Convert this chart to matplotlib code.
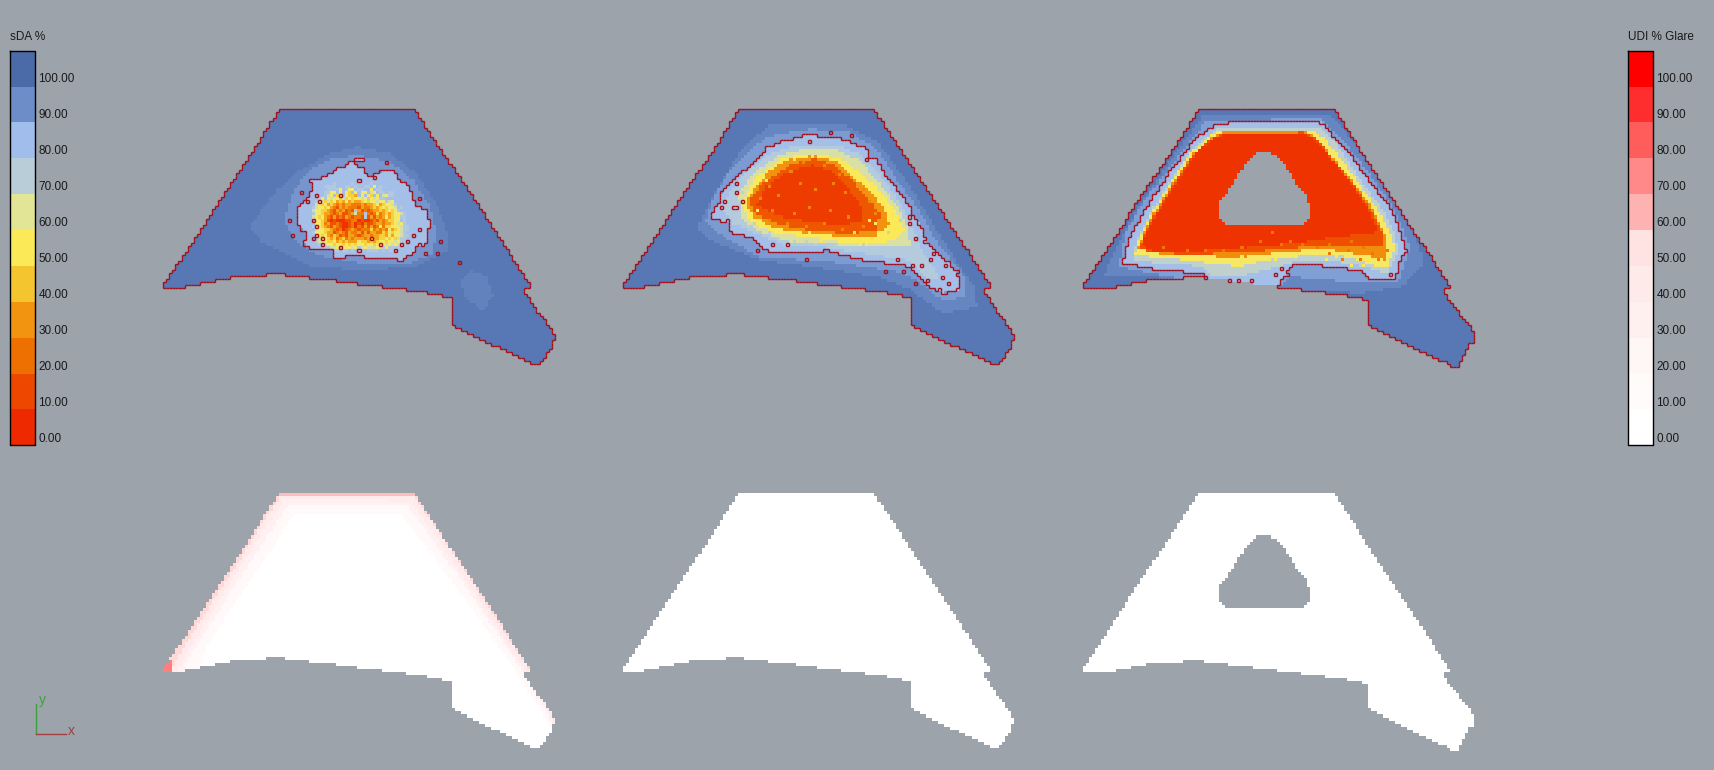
import numpy as np
import matplotlib
matplotlib.use("Agg")
import matplotlib.pyplot as plt
from matplotlib.collections import LineCollection
from matplotlib.colors import BoundaryNorm, LinearSegmentedColormap, ListedColormap
from matplotlib.path import Path

plt.rcParams['font.family'] = ['Liberation Sans', 'DejaVu Sans']

BG = '#9ca3ab'
CELL = 3.034

# legends
legend_ticks = [100, 90, 80, 70, 60, 50, 40, 30, 20, 10, 0]
sda_colors = ['#ee2900', '#ee4800', '#ee7000', '#f2940f', '#f5c530', '#fbe957',
              '#e2e596', '#b9cdd9', '#a0bdec', '#6d8dc8', '#4b6ba8']
udi_colors = ['#ffffff', '#fffbfb', '#fff6f6', '#fff0f0', '#ffeaea', '#ffe3e3',
              '#ffb2b2', '#ff8888', '#ff5c5c', '#ff2e2e', '#ff0000']

# outlines, in px of the picture
outline_a = [(280, 109.3), (414.5, 109.3), (531.7, 286.7), (525.7, 288.3), (525.7, 294),
             (555, 335), (555, 340), (550.5, 341.7), (550.5, 347), (545.5, 355),
             (539, 365), (534, 365), (528.3, 361.7), (451.7, 325), (451.7, 297.3),
             (442.3, 297.3), (442.3, 294.3), (426.7, 294.3), (426.7, 291.3), (405.7, 291.3),
             (405.7, 288.3), (381, 288.3), (381, 285.3), (356.7, 285.3), (356.7, 282.3),
             (335, 282.3), (335, 279.3), (310, 279.3), (310, 276.5), (285, 276.5),
             (285, 273.3), (267.3, 273.3), (267.3, 276.3), (230.7, 276.3), (230.7, 279.3),
             (215.3, 279.3), (215.3, 282.3), (200, 282.3), (200, 285.3), (184.3, 285.3),
             (184.3, 288.3), (163.3, 288.3), (163.3, 285.3)]
outline_c = [(1198.7, 109.3), (1333.3, 109.3), (1450, 286.7), (1444, 288.3), (1444, 294),
             (1474, 331.7), (1474, 342.3), (1469, 344), (1464, 355), (1458.5, 366.7),
             (1453.3, 366.7), (1446.7, 363.3), (1367.3, 324.3), (1367.3, 300.7), (1361.7, 300.7),
             (1361.7, 297.7), (1346, 297.7), (1346, 294.3), (1324.7, 294.3), (1324.7, 291.3),
             (1300, 291.3), (1300, 288.3), (1275.7, 288.3), (1275.7, 285.3), (1253.3, 285.3),
             (1253.3, 282.3), (1229.3, 282.3), (1229.3, 279.3), (1205, 279.3), (1205, 276.3),
             (1183.3, 276.3), (1183.3, 279.3), (1146.7, 279.3), (1146.7, 282.3), (1131, 282.3),
             (1131, 285.3), (1115, 285.3), (1115, 288.3), (1082.7, 288.3), (1082.7, 285.3)]

sda_a = [
    (93, [(620, 170), (720, 190), (800, 250), (860, 340), (890, 420), (900, 480), (800, 530),
          (650, 540), (480, 530), (340, 460), (300, 410), (380, 300), (450, 240), (540, 190)]),
    (93, [(960, 540), (1010, 560), (1030, 620), (1000, 660), (950, 630), (930, 580)]),
    (88, [(620, 195), (720, 215), (790, 270), (840, 350), (860, 430), (850, 490), (780, 520),
          (640, 520), (500, 495), (430, 450), (400, 390), (430, 300), (480, 240), (550, 205)]),
    (78, [(618, 200), (638, 200), (638, 210), (612, 212), (612, 225), (640, 228), (636, 250),
          (660, 258), (690, 245), (712, 240), (740, 248), (748, 272), (780, 290), (785, 322),
          (800, 352), (830, 356), (832, 378), (840, 400), (830, 440), (830, 462), (795, 470),
          (790, 490), (752, 510), (700, 500), (660, 505), (610, 490), (580, 500), (550, 500),
          (548, 478), (480, 472), (462, 455), (468, 425), (440, 400), (445, 350), (470, 330),
          (490, 290), (475, 270), (510, 265), (540, 248), (570, 230), (590, 225)]),
]
sda_b = [
    (92, [(480, 105), (700, 100), (800, 150), (900, 290), (1000, 450), (1090, 590), (1100, 650),
          (1000, 670), (900, 600), (800, 560), (600, 530), (450, 510), (300, 450), (260, 410),
          (330, 280), (400, 170)]),
    (87, [(470, 140), (600, 115), (720, 125), (800, 175), (860, 270), (920, 350), (985, 460),
          (1060, 550), (1070, 620), (1000, 635), (920, 570), (860, 545), (700, 520), (580, 510),
          (450, 500), (340, 440), (285, 395), (310, 320), (360, 240), (420, 180)]),
    (78, [(470, 168), (510, 160), (515, 145), (545, 145), (575, 135), (620, 135), (680, 140),
          (725, 155), (770, 175), (775, 200), (800, 200), (820, 250), (855, 290), (875, 320),
          (900, 350), (905, 370), (930, 400), (950, 460), (985, 490), (1020, 520), (1045, 560),
          (1045, 600), (1000, 610), (960, 590), (900, 530), (860, 520), (780, 515), (700, 495),
          (650, 480), (580, 490), (520, 490), (470, 480), (420, 440), (360, 425), (360, 395),
          (300, 385), (300, 372), (325, 340), (335, 305), (370, 265), (410, 235), (440, 205),
          (465, 180)]),
    (72, [(480, 190), (560, 165), (680, 165), (750, 190), (800, 240), (870, 340), (910, 420),
          (940, 490), (990, 560), (960, 570), (890, 510), (760, 490), (640, 470), (540, 470),
          (440, 430), (370, 400), (330, 350), (380, 280), (430, 230)]),
    (62, [(500, 200), (580, 175), (680, 180), (750, 210), (800, 270), (860, 350), (895, 420),
          (900, 470), (800, 470), (640, 460), (540, 455), (450, 425), (395, 385), (385, 310),
          (430, 250)]),
    (50, [(520, 205), (600, 190), (690, 205), (740, 240), (800, 290), (860, 370), (885, 420),
          (850, 450), (760, 465), (600, 440), (500, 430), (420, 395), (395, 340), (440, 260)]),
    (30, [(530, 210), (610, 195), (680, 215), (730, 260), (790, 310), (830, 370), (835, 400),
          (800, 440), (740, 445), (600, 430), (500, 415), (430, 380), (405, 340), (440, 290),
          (480, 240)]),
    (14, [(540, 225), (610, 205), (670, 225), (720, 265), (770, 320), (810, 370), (800, 420),
          (720, 430), (600, 420), (500, 400), (430, 370), (420, 330), (460, 280)]),
    (6, [(545, 240), (610, 225), (670, 245), (710, 290), (750, 340), (760, 390), (700, 405),
         (600, 395), (510, 380), (440, 345), (470, 290)]),
]
sda_c = [
    (92, [(400, 75), (780, 75), (830, 130), (880, 190), (1000, 370), (1050, 470), (1060, 520),
          (1000, 590), (880, 610), (620, 600), (560, 600), (400, 580), (240, 560), (100, 560),
          (130, 490), (200, 360), (300, 210)]),
    (86, [(410, 92), (760, 88), (810, 140), (890, 240), (975, 360), (1020, 470), (1000, 540),
          (985, 580), (880, 580), (660, 560), (640, 585), (420, 585), (250, 550), (145, 530),
          (170, 420), (240, 310), (330, 190)]),
    (78, [(425, 108), (455, 100), (560, 95), (745, 95), (765, 105), (790, 140), (830, 180),
          (870, 235), (910, 290), (955, 345), (990, 420), (1010, 480), (990, 510), (975, 565),
          (900, 565), (880, 545), (800, 530), (740, 525), (690, 520), (660, 530), (640, 560),
          (615, 600), (550, 600), (420, 585), (405, 550), (340, 545), (240, 535), (155, 518),
          (185, 425), (250, 320), (300, 240), (370, 150), (385, 135)]),
    (68, [(450, 112), (745, 108), (790, 150), (850, 240), (900, 310), (945, 370), (975, 430),
          (985, 480), (970, 520), (950, 550), (880, 530), (800, 515), (700, 510), (640, 525),
          (590, 540), (500, 560), (430, 560), (400, 530), (300, 520), (190, 515), (195, 470),
          (230, 390), (290, 290), (350, 200), (410, 140)]),
    (52, [(455, 120), (730, 118), (770, 150), (830, 230), (880, 300), (930, 370), (965, 435),
          (975, 480), (960, 510), (950, 535), (880, 515), (780, 490), (620, 505), (500, 530),
          (420, 520), (300, 505), (195, 495), (205, 450), (240, 380), (300, 280), (360, 190),
          (420, 135)]),
    (28, [(460, 125), (710, 125), (750, 150), (810, 230), (860, 290), (910, 360), (945, 430),
          (950, 510), (880, 495), (760, 475), (600, 490), (490, 505), (400, 495), (260, 490),
          (205, 475), (235, 400), (300, 290), (370, 190), (425, 140)]),
    (12, [(463, 128), (705, 126), (748, 152), (800, 225), (855, 290), (905, 365), (940, 430),
          (935, 470), (760, 465), (600, 480), (400, 492), (250, 489), (208, 472), (238, 402),
          (305, 290), (375, 187), (428, 142)]),
    (3, [(465, 130), (700, 128), (745, 155), (790, 215), (850, 290), (900, 370), (925, 425),
         (800, 440), (700, 455), (560, 470), (400, 482), (250, 482), (215, 465), (240, 405),
         (310, 290), (380, 185), (430, 145)]),
]
hole_c = [(562, 189), (605, 189), (630, 205), (650, 235), (670, 265), (690, 298), (710, 320),
          (717, 338), (717, 388), (698, 408), (480, 408), (462, 398), (450, 378), (450, 335),
          (470, 310), (490, 280), (505, 255), (525, 225), (545, 197)]

# first panel core, one digit per cell (tens of percent), from x=295 y=180
core_a = [
    "",
    ".............7.....7.....7",
    "..........7777...77.7..77.5.7",
    "...........77775.755.77..5.77",
    "..........7755.5.54.5.55.65.77.77",
    "..........765.45.5443.5.54.5.6577",
    "........7575655464545565756577",
    ".......75646453435343345455655765",
    ".......654534323233222323345345567",
    "......7655453213232221322343454556.7",
    "......65544321323121731212334345457",
    "......7554332123112362272124234345567",
    "......6545321312132122171313235345577",
    ".......5543101000112201001213234455.7",
    ".......554231121001201021123323345657",
    "......75543213210012021313125244555677",
    ".......6554432120123212224232325345677",
    "......7555433123213223131332243545567",
    ".......6545324312133212332334435355677",
    "......8765543423423233323433445454677",
    ".......7655445343433354434345545565778",
    "........77655455454545545545556565677",
    "..........7766565556576566656757777",
    ".............77.77.7.77.7777.7.77",
]

b_orange = [(180, 60), (220, 40), (280, 45), (330, 70), (120, 110), (150, 140), (210, 100),
            (260, 120), (310, 100), (350, 130), (400, 120), (240, 170), (300, 180), (190, 190),
            (130, 180), (90, 150), (360, 200), (420, 160), (440, 190), (280, 220), (230, 230),
            (340, 240), (400, 230), (120, 210), (170, 220)]
b_yellow = [(190, 25), (250, 20), (300, 30), (345, 50), (375, 75), (130, 55), (100, 75), (70, 110),
            (55, 135), (45, 165), (60, 190), (95, 210), (130, 235), (165, 245), (235, 245),
            (300, 255), (345, 265), (400, 265), (445, 250), (475, 225), (490, 190), (455, 140),
            (430, 110), (385, 90), (150, 35), (75, 95), (110, 90), (85, 185), (420, 210),
            (465, 175), (210, 255), (270, 270), (370, 245), (320, 268), (440, 215)]
b_pale = [(40, 130), (25, 160), (70, 215), (190, 270), (510, 210), (500, 160), (150, 265),
          (230, 270), (400, 285), (470, 250), (320, 285), (260, 285), (115, 245), (60, 225)]
c_orange = [(700, 110), (650, 120), (600, 130), (560, 110), (520, 100), (480, 90), (430, 70),
            (450, 100), (390, 90), (600, 100), (660, 90), (730, 130), (750, 150), (690, 150),
            (640, 150), (770, 120), (340, 110), (280, 120), (230, 125), (170, 120), (100, 115)]
c_yellow = [(240, 150), (290, 150), (340, 140), (390, 135), (440, 150), (560, 130), (620, 135),
            (700, 170), (740, 170), (660, 170), (30, 120), (110, 140), (170, 145), (500, 135),
            (590, 145), (720, 150)]
c_pale = [(350, 170), (300, 170), (250, 180), (420, 170), (380, 160), (470, 155), (330, 190),
          (290, 190), (530, 150)]

# lone loops of the threshold line, same crops as the bands
specks_a = [(927, 516), (420, 386), (430, 434), (707, 221), (807, 323), (873, 452), (860, 489),
            (828, 489), (458, 305), (468, 338), (460, 462), (522, 462), (486, 386), (503, 405),
            (504, 434), (450, 414), (570, 315), (624, 276), (668, 267), (688, 243), (660, 443),
            (688, 462), (570, 470), (624, 480), (752, 462), (735, 480), (808, 462), (790, 435),
            (522, 443), (513, 332), (495, 315), (806, 414)]
specks_b = [(660, 128), (723, 137), (594, 155), (770, 212), (375, 284), (375, 305), (336, 310),
            (393, 332), (345, 340), (366, 350), (382, 350), (330, 358), (355, 387), (900, 378),
            (927, 395), (900, 400), (918, 445), (940, 452), (484, 462), (443, 480), (530, 462),
            (585, 506), (825, 545), (880, 546), (918, 580), (953, 572), (990, 600), (1005, 608),
            (1045, 600), (1000, 563), (1040, 548), (1020, 580), (970, 490), (960, 510),
            (1010, 530), (930, 525), (910, 525), (860, 510)]
specks_c = [(483, 570), (510, 570), (545, 570), (620, 552), (638, 535), (648, 552), (960, 552),
            (755, 100)]

# glare bands of the first lower panel
udi_a = [
    (38, [(390, 69), (795, 71), (870, 179), (1140, 589), (1300, 919), (40, 919), (70, 584),
          (100, 519), (250, 289), (370, 99)]),
    (28, [(400, 79), (780, 81), (860, 189), (1120, 579), (1300, 919), (50, 919), (85, 584),
          (115, 529), (265, 289), (385, 104)]),
    (15, [(415, 95), (770, 95), (850, 199), (1110, 579), (1300, 919), (55, 919), (100, 584),
          (130, 529), (280, 299), (400, 115)]),
    (0, [(440, 119), (750, 119), (830, 219), (1090, 579), (1300, 919), (120, 919), (150, 584),
         (170, 519), (310, 309), (420, 139)]),
    (72, [(20, 610), (70, 550), (70, 610)]),
    (58, [(385, 55), (800, 55), (800, 68), (385, 68)]),
]

sda_cmap = LinearSegmentedColormap.from_list('sda', sda_colors, N=256)
udi_cmap = LinearSegmentedColormap.from_list('udi', udi_colors, N=256)


def from_crop(points, origin):
    return [(origin[0] + x / 3, origin[1] + y / 3) for x, y in points]


def raster(outline, bands, base, origin, hole=None):
    pts = np.array(outline)
    left, top = pts[:, 0].min(), pts[:, 1].min()
    nx = int((pts[:, 0].max() - left) / CELL) + 2
    ny = int((pts[:, 1].max() - top) / CELL) + 2
    xe = left + CELL * np.arange(nx + 1)
    ye = top + CELL * np.arange(ny + 1)
    xc, yc = np.meshgrid(xe[:-1] + CELL / 2, ye[:-1] + CELL / 2)
    cells = np.column_stack([xc.ravel(), yc.ravel()])
    vals = np.full(xc.shape, float(base))
    for val, poly in bands:
        inside = Path(from_crop(poly, origin)).contains_points(cells).reshape(xc.shape)
        vals[inside] = val
    inside = Path(outline).contains_points(cells).reshape(xc.shape)
    if hole is not None:
        inside &= ~Path(from_crop(hole, origin)).contains_points(cells).reshape(xc.shape)
    vals[~inside] = np.nan
    return xe, ye, vals


def set_cells(vals, xe, ye, points, origin, value):
    for x, y in from_crop(points, origin):
        i, j = int((x - xe[0]) / CELL), int((y - ye[0]) / CELL)
        if not np.isnan(vals[j, i]):
            vals[j, i] = value


def threshold_line(ax, xe, ye, vals, specks, origin):
    high = np.nan_to_num(vals, nan=0) >= 80
    for x, y in from_crop(specks, origin):
        i, j = int((x - xe[0]) / CELL), int((y - ye[0]) / CELL)
        high[j, i] = not high[j, i]
    high = np.pad(high, 1)
    segs = []
    ny, nx = high.shape
    for j in range(1, ny):
        for i in range(1, nx):
            if high[j, i] != high[j, i - 1]:
                segs.append([(xe[i - 1], ye[j - 1]), (xe[i - 1], ye[j])])
            if high[j, i] != high[j - 1, i]:
                segs.append([(xe[i - 1], ye[j - 1]), (xe[i], ye[j - 1])])
    ax.add_collection(LineCollection(segs, colors='#a30d16', linewidths=1.0, zorder=3))


def legend(ax, x, title, colors):
    edges = 50.7 + np.arange(12) * 35.87
    cmap = ListedColormap(colors[::-1])
    ax.pcolormesh([x, x + 24.4], edges, np.arange(11).reshape(-1, 1), cmap=cmap,
                  norm=BoundaryNorm(np.arange(-0.5, 11), 11), zorder=2)
    ax.plot([x, x + 24.4, x + 24.4, x, x], [edges[0], edges[0], edges[-1], edges[-1], edges[0]],
            color='black', lw=1.0, zorder=3)
    ax.text(x, 36.5, title, fontsize=8.5, color='#1a1a1a', va='center')
    for k, t in enumerate(legend_ticks):
        ax.text(x + 28.2, 78.7 + 36 * k, '%.2f' % t, fontsize=8.5, color='#1a1a1a', va='center')


fig = plt.figure(figsize=(17.15, 7.7), dpi=100, facecolor=BG)
ax = fig.add_axes([0, 0, 1, 1])
ax.set_xlim(0, 1715)
ax.set_ylim(770, 0)
ax.axis('off')

DX = 459.33
DY = 383.7
outline_b = [(x + DX, y) for x, y in outline_a]
panels = [(outline_a, sda_a, specks_a, (150, 90), None),
          (outline_b, sda_b, specks_b, (610, 90), None),
          (outline_c, sda_c, specks_c, (1070, 90), hole_c)]

for n, (outline, bands, specks, origin, hole) in enumerate(panels):
    xe, ye, vals = raster(outline, bands, 96, origin, hole)
    if n == 0:
        for r, row in enumerate(core_a):
            for c, ch in enumerate(row):
                if ch != '.':
                    y = 180 + (r + 0.5) * CELL
                    x = 295 + (c + 0.5) * CELL
                    vals[int((y - ye[0]) / CELL), int((x - xe[0]) / CELL)] = int(ch) * 10 + 3
    if n == 1:
        set_cells(vals, xe, ye, b_yellow, (730, 150), 52)
        set_cells(vals, xe, ye, b_pale, (730, 150), 68)
        set_cells(vals, xe, ye, b_orange, (730, 150), 26)
    if n == 2:
        set_cells(vals, xe, ye, c_orange, (1130, 210), 22)
        set_cells(vals, xe, ye, c_yellow, (1130, 210), 50)
        set_cells(vals, xe, ye, c_pale, (1130, 210), 68)
    ax.pcolormesh(xe, ye, np.ma.masked_invalid(vals), cmap=sda_cmap, vmin=0, vmax=100,
                  antialiased=False, zorder=2)
    threshold_line(ax, xe, ye, vals, specks, origin)

    low = [(x, y + DY) for x, y in outline]
    if n == 0:
        # crop of the lower row starts at y=480
        xe, ye, vals = raster(low, udi_a, 52, (150, 480 - 6.3))
    else:
        xe, ye, vals = raster(low, [], 0, (origin[0], 90 + DY), hole)
    ax.pcolormesh(xe, ye, np.ma.masked_invalid(vals), cmap=udi_cmap, vmin=0, vmax=100,
                  antialiased=False, zorder=2)

legend(ax, 10.3, 'sDA %', sda_colors)
legend(ax, 1628.3, 'UDI % Glare', udi_colors)

# axis triad
ax.plot([36, 36], [734, 704], color='#3f9f3f', lw=1.0)
ax.plot([36, 66], [734, 734], color='#a04040', lw=1.0)
ax.text(42, 700, 'y', color='#3f9f3f', fontsize=10, ha='center', va='center')
ax.text(71.5, 731, 'x', color='#a04040', fontsize=10, ha='center', va='center')

fig.savefig('out.png', dpi=100, facecolor=BG)
